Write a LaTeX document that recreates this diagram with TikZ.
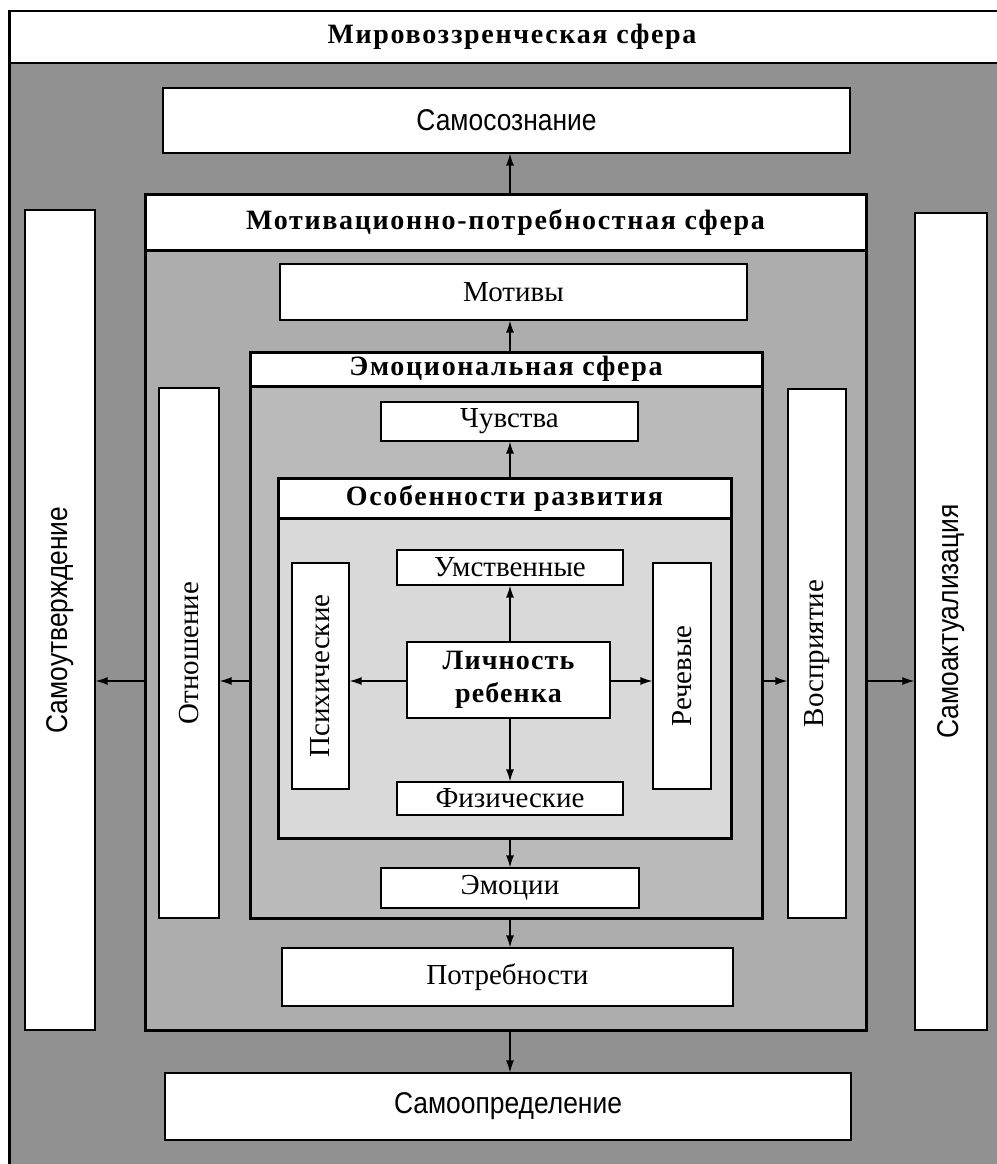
\documentclass[tikz,border=0pt]{standalone}
\usepackage{fontspec}
\setmainfont{Liberation Serif}
\newfontfamily\condfont[FakeStretch=0.88]{Liberation Sans}
\usetikzlibrary{arrows.meta}
\definecolor{outerfill}{gray}{0.57}
\definecolor{mpsfill}{gray}{0.68}
\definecolor{esfill}{gray}{0.73}
\definecolor{orfill}{gray}{0.85}
\begin{document}
\begin{tikzpicture}[x=1pt,y=-1pt,
  txt/.style={font=\fontsize{29}{33}\selectfont},
  hd/.style={font=\fontsize{28}{32}\selectfont\bfseries\addfontfeatures{LetterSpace=6}},
  cond/.style={font=\condfont\fontsize{30}{34}\selectfont},
  wbox/.style={draw, line width=1.2pt, fill=white, inner sep=0pt},
  frm/.style={draw, line width=3pt, inner sep=0pt},
  arr/.style={-{Latex[length=12pt,width=8pt]}, line width=1.3pt},
  lbl/.style={inner sep=0pt, rotate=90}
]
\useasboundingbox (0,0) rectangle (996,1164);
% outer sphere
\node[draw, line width=2.5pt, fill=outerfill, minimum width=1010pt, minimum height=1170pt, anchor=north west] (outer) at (8,10) {};
\node[draw, line width=2.5pt, fill=white, minimum width=1010pt, minimum height=52pt, anchor=north west] (wband) at (8,10) {};
\node[hd, inner sep=0pt] (wtitle) at (512,37) {Мировоззренческая сфера};
\node[wbox, cond, minimum width=687pt, minimum height=65pt] (samosoz) at (506.5,120.5) {Самосознание};
\node[wbox, minimum width=70pt, minimum height=820pt] (samout) at (60,620) {};
\node[lbl, cond] (samoutT) at (samout.center) {Самоутверждение};
\node[wbox, minimum width=72pt, minimum height=817pt] (samakt) at (951,621.5) {};
\node[lbl, cond] (samaktT) at (samakt.center) {Самоактуализация};
\node[wbox, cond, minimum width=686pt, minimum height=67pt] (samopr) at (508,1106.5) {Самоопределение};
% motivational sphere
\node[frm, fill=mpsfill, minimum width=721pt, minimum height=836pt] (mps) at (505.5,612) {};
\node[frm, fill=white, hd, minimum width=721pt, minimum height=56pt] (mpsh) at (505.5,222) {Мотивационно-потребностная сфера};
\node[wbox, txt, minimum width=467pt, minimum height=56pt] (motiv) at (513.5,292) {Мотивы};
\node[wbox, txt, minimum width=451pt, minimum height=58pt] (potr) at (507.5,977) {Потребности};
\node[wbox, minimum width=60pt, minimum height=530pt] (otn) at (189,653) {};
\node[lbl, txt] (otnT) at (otn.center) {Отношение};
\node[wbox, minimum width=58pt, minimum height=529pt] (vospr) at (817,653.5) {};
\node[lbl, txt] (vosprT) at (vospr.center) {Восприятие};
% emotional sphere
\node[frm, fill=esfill, minimum width=512pt, minimum height=566pt] (es) at (506,635) {};
\node[frm, fill=white, hd, minimum width=512pt, minimum height=34pt] (esh) at (506,369) {Эмоциональная сфера};
\node[wbox, txt, minimum width=257pt, minimum height=39pt] (chuv) at (509.5,421.5) {Чувства};
\node[wbox, txt, minimum width=258pt, minimum height=40pt] (emoc) at (510,888) {Эмоции};
% development features
\node[frm, fill=orfill, minimum width=453pt, minimum height=360pt] (orz) at (504.5,658) {};
\node[frm, fill=white, hd, minimum width=453pt, minimum height=40pt] (orh) at (504.5,498) {Особенности развития};
\node[wbox, txt, minimum width=226pt, minimum height=35pt] (umst) at (510,567.5) {Умственные};
\node[wbox, txt, minimum width=226pt, minimum height=33pt] (fiz) at (510,798.5) {Физические};
\node[wbox, minimum width=57pt, minimum height=226pt] (psih) at (320.5,676) {};
\node[lbl, txt] (psihT) at (psih.center) {Психические};
\node[wbox, minimum width=58pt, minimum height=226pt] (rech) at (682,676) {};
\node[lbl, txt] (rechT) at (rech.center) {Речевые};
\node[wbox, line width=2.2pt, font=\fontsize{28}{33}\selectfont\bfseries\addfontfeatures{LetterSpace=4}, align=center, minimum width=203pt, minimum height=76pt] (lich) at (508.5,680) {Личность\\ребенка};
% arrows
\coordinate (ax) at (510,0);
\coordinate (ay) at (0,681);
\draw[arr] (ax |- lich.north) -- (ax |- umst.south);
\draw[arr] (ax |- lich.south) -- (ax |- fiz.north);
\draw[arr] (ay -| lich.west) -- (ay -| psih.east);
\draw[arr] (ay -| lich.east) -- (ay -| rech.west);
\draw[arr] (ax |- orz.north) -- (ax |- chuv.south);
\draw[arr] (ax |- orz.south) -- (ax |- emoc.north);
\draw[arr] (ay -| es.west) -- (ay -| otn.east);
\draw[arr] (ay -| es.east) -- (ay -| vospr.west);
\draw[arr] (ax |- es.north) -- (ax |- motiv.south);
\draw[arr] (ax |- es.south) -- (ax |- potr.north);
\draw[arr] (ay -| mps.west) -- (ay -| samout.east);
\draw[arr] (ay -| mps.east) -- (ay -| samakt.west);
\draw[arr] (ax |- mps.north) -- (ax |- samosoz.south);
\draw[arr] (ax |- mps.south) -- (ax |- samopr.north);
\end{tikzpicture}
\end{document}
